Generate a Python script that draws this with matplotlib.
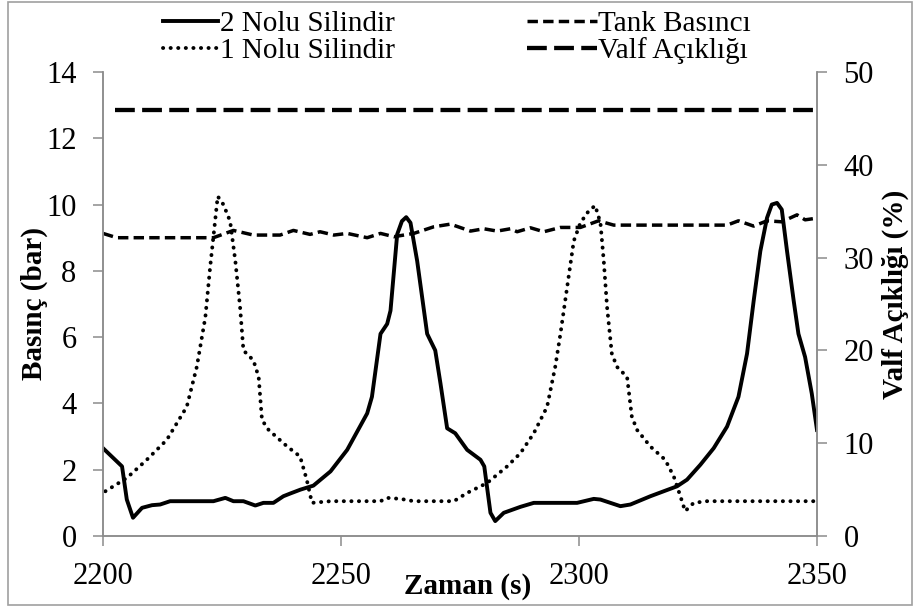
import matplotlib.pyplot as plt
from matplotlib.patches import Rectangle

plt.rcParams['font.family'] = ['Liberation Serif', 'DejaVu Serif']

# 2 Nolu Silindir (solid)
t_cyl2 = [2200, 2204, 2205, 2206.3, 2208.2, 2210.3, 2212, 2214.1, 2223.2, 2225.7,
          2227.4, 2229.5, 2232, 2233.7, 2235.8, 2237.9, 2239.3, 2241.5, 2244.2, 2247.8,
          2251.3, 2255.5, 2256.5, 2258.3, 2259.7, 2260.4, 2261.8, 2262.8, 2263.7, 2264.6,
          2266, 2268.1, 2269.8, 2270.9, 2272.3, 2274, 2276.5, 2279.3, 2280.1, 2281.4,
          2282.4, 2284.2, 2287.7, 2290.5, 2299.6, 2303.1, 2304.5, 2308.7, 2310.8, 2315,
          2320.6, 2322.7, 2325.5, 2328.3, 2331.1, 2333.5, 2335.3, 2336.7, 2338.1, 2339.5,
          2340.5, 2341.6, 2342.6, 2343.7, 2345.1, 2346.1, 2347.5, 2348.9, 2350]
p_cyl2 = [2.65, 2.1, 1.1, 0.55, 0.85, 0.93, 0.95, 1.05, 1.05, 1.15,
          1.05, 1.05, 0.92, 1.0, 1.0, 1.2, 1.28, 1.4, 1.52, 1.95,
          2.6, 3.7, 4.2, 6.1, 6.4, 6.8, 9.1, 9.5, 9.62, 9.45,
          8.3, 6.1, 5.6, 4.6, 3.25, 3.1, 2.6, 2.3, 2.1, 0.7,
          0.45, 0.7, 0.88, 1.0, 1.0, 1.12, 1.1, 0.9, 0.95, 1.2,
          1.5, 1.7, 2.15, 2.65, 3.3, 4.2, 5.5, 7.1, 8.6, 9.6,
          10.0, 10.05, 9.85, 8.6, 7.1, 6.1, 5.4, 4.3, 3.2]

# 1 Nolu Silindir (dotted)
t_cyl1 = [2200.5, 2205, 2209.2, 2213.4, 2217.6, 2219.7, 2221.5, 2222.5, 2223.4, 2224.1,
          2225.3, 2226.7, 2227.8, 2228.8, 2229.5, 2231.6, 2232.7, 2233.4, 2234.8, 2238.7,
          2241.4, 2242.8, 2243.9, 2247.8, 2258.3, 2259.7, 2262.5, 2265.3, 2273.7, 2276.5,
          2280.7, 2284.9, 2287.7, 2290.5, 2293.3, 2295, 2296.1, 2297.5, 2298.9, 2300.3,
          2302, 2303.4, 2304.5, 2305.2, 2305.9, 2306.9, 2308, 2310.1, 2311.1, 2312.2,
          2315, 2318.1, 2319.9, 2321.3, 2322.3, 2324.1, 2326.9, 2350]
p_cyl1 = [1.35, 1.75, 2.3, 2.9, 3.9, 5.1, 6.6, 8.1, 9.3, 10.25,
          10.0, 9.5, 8.3, 6.9, 5.6, 5.3, 4.8, 3.5, 3.2, 2.7,
          2.4, 1.7, 1.0, 1.05, 1.05, 1.15, 1.12, 1.05, 1.05, 1.3,
          1.6, 2.1, 2.5, 3.1, 3.9, 5.1, 6.1, 7.5, 8.9, 9.45,
          9.8, 9.97, 9.45, 8.3, 6.9, 5.5, 5.1, 4.8, 3.6, 3.2,
          2.7, 2.3, 1.8, 1.2, 0.75, 1.0, 1.05, 1.05]

# Tank Basıncı
t_tank = [2200, 2202.9, 2223.2, 2227.4, 2231.6, 2237.2, 2240, 2243.5, 2245.6, 2248.5,
          2251.3, 2255.5, 2258.3, 2261.1, 2265.3, 2269.5, 2273, 2277.2, 2280, 2282.8,
          2285.6, 2287, 2289.8, 2292.6, 2296.1, 2300.3, 2304.1, 2307.3, 2331.1, 2333.5,
          2336.7, 2339.5, 2342.6, 2345.8, 2347.5, 2350]
p_tank = [9.13, 9.0, 9.0, 9.22, 9.08, 9.08, 9.22, 9.1, 9.18, 9.08,
          9.13, 9.0, 9.13, 9.03, 9.13, 9.33, 9.41, 9.2, 9.27, 9.2,
          9.27, 9.18, 9.3, 9.18, 9.31, 9.31, 9.51, 9.38, 9.38, 9.51,
          9.35, 9.51, 9.48, 9.69, 9.54, 9.59]

# Valf Açıklığı (right axis, %)
t_valf = [2202.6, 2350]
valf = [45.9, 45.9]

xticks = [2200, 2250, 2300, 2350]
yticks_left = [0, 2, 4, 6, 8, 10, 12, 14]
yticks_right = [0, 10, 20, 30, 40, 50]

axis_gray = '#8c8c8c'

fig = plt.figure(figsize=(9.14, 6.10), dpi=100, facecolor='white')
ax = fig.add_axes([103 / 914, 74 / 610, 714 / 914, 464 / 610])
ax2 = ax.twinx()

l_cyl2, = ax.plot(t_cyl2, p_cyl2, color='black', lw=2.8, solid_joinstyle='round')
l_cyl1, = ax.plot(t_cyl1, p_cyl1, color='black', lw=2.8, linestyle=(0, (0.05, 1.9)),
                  dash_capstyle='round')
l_tank, = ax.plot(t_tank, p_tank, color='black', lw=2.5, linestyle=(0, (3.0, 1.5)))
l_valf, = ax2.plot(t_valf, valf, color='black', lw=3.1, linestyle=(0, (4.6, 1.7)))

ax.set_xlim(2200, 2350)
ax.set_ylim(0, 14)
ax2.set_ylim(0, 50)
ax.set_xticks(xticks)
ax.set_yticks(yticks_left)
ax2.set_yticks(yticks_right)

for a in (ax, ax2):
    for s in a.spines.values():
        s.set_color(axis_gray)
        s.set_linewidth(1.1)
    a.spines['top'].set_visible(False)
    a.tick_params(colors=axis_gray, labelcolor='black', labelsize=22,
                  length=7, width=1.1, direction='out', pad=12)

ax.set_ylabel('Basınç (bar)', fontsize=21, fontweight='bold')
ax.yaxis.set_label_coords(-0.077, 0.5)
ax2.set_ylabel('Valf Açıklığı (%)', fontsize=21, fontweight='bold')
ax2.yaxis.set_label_coords(1.091, 0.52)
ax.set_xlabel('Zaman (s)', fontsize=21, fontweight='bold')
ax.xaxis.set_label_coords(0.51, -0.08)

# legend in two separate columns (shorter handles on the right one)
leg_kw = dict(loc='upper left', frameon=False, fontsize=21, handletextpad=0.05,
              labelspacing=0.0, borderpad=0.0, borderaxespad=0.0)
leg1 = fig.legend([l_cyl2, l_cyl1], ['2 Nolu Silindir', '1 Nolu Silindir'],
                  bbox_to_anchor=(163 / 914, 1 - 11 / 610), handlelength=1.9, **leg_kw)
leg2 = fig.legend([l_tank, l_valf], ['Tank Basıncı', 'Valf Açıklığı'],
                  bbox_to_anchor=(527 / 914, 1 - 11 / 610), handlelength=2.4, **leg_kw)

fig.patches.append(Rectangle((8 / 914, 5 / 610), 904 / 914, 603 / 610,
                             transform=fig.transFigure, fill=False,
                             edgecolor='#a0a0a0', lw=1.2))

fig.savefig('out.png', dpi=100, facecolor='white')
